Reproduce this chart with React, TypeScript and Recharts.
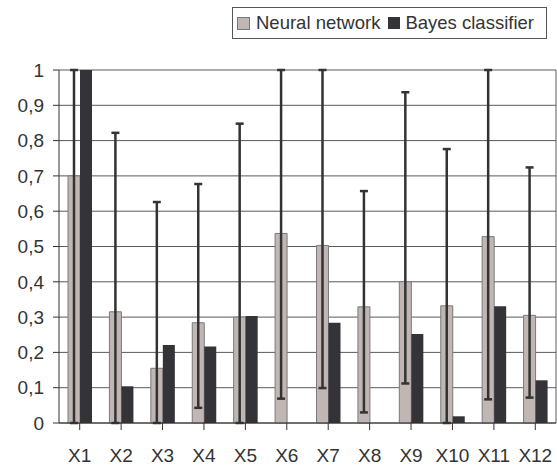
import React from 'react';
import {
  BarChart,
  Bar,
  XAxis,
  YAxis,
  CartesianGrid,
  ErrorBar,
  Legend,
} from 'recharts';

const categories = ['X1', 'X2', 'X3', 'X4', 'X5', 'X6', 'X7', 'X8', 'X9', 'X10', 'X11', 'X12'];
const neuralNetwork = [0.7, 0.315, 0.155, 0.284, 0.3, 0.537, 0.503, 0.329, 0.4, 0.332, 0.528, 0.305];
const bayesClassifier = [1.0, 0.104, 0.221, 0.217, 0.303, 0, 0.284, 0, 0.252, 0.019, 0.331, 0.121];
const errorLow = [0, 0, 0, 0.043, 0, 0.069, 0.099, 0.03, 0.112, 0, 0.067, 0.072];
const errorHigh = [1.0, 0.822, 0.626, 0.677, 0.848, 1.0, 1.0, 0.657, 0.937, 0.776, 1.0, 0.724];
const yTicks = [0, 0.1, 0.2, 0.3, 0.4, 0.5, 0.6, 0.7, 0.8, 0.9, 1];

const NN_FILL = '#c0b7b4';
const BAYES_FILL = '#333338';
const TEXT = '#333333';
const FONT = '"Liberation Sans", Arial, sans-serif';

const data = categories.map((name, i) => ({
  name,
  nn: neuralNetwork[i],
  bayes: bayesClassifier[i],
  nnErr: [neuralNetwork[i] - errorLow[i], errorHigh[i] - neuralNetwork[i]],
}));

const fmt = (v: number) => (v === 0 || v === 1 ? String(v) : v.toFixed(1).replace('.', ','));

const LegendBox = () => (
  <div
    style={{
      border: '1px solid #555',
      background: '#fff',
      height: 30,
      width: 313,
      display: 'flex',
      alignItems: 'center',
      fontFamily: FONT,
      fontSize: 18.5,
      color: TEXT,
      boxSizing: 'content-box',
    }}
  >
    <span style={{ width: 11, height: 11, background: NN_FILL, border: '1px solid #777', marginLeft: 4, marginRight: 6 }} />
    <span>Neural network</span>
    <span style={{ width: 12, height: 12, background: BAYES_FILL, marginLeft: 8, marginRight: 5 }} />
    <span>Bayes classifier</span>
  </div>
);

export default function App() {
  return (
    <div style={{ position: 'absolute', left: 0, top: 0, background: '#fff' }}>
      <BarChart
        width={557}
        height={466}
        data={data}
        margin={{ top: 70, right: 1, left: 0, bottom: 0 }}
        barGap={0}
        barSize={12}
      >
        <CartesianGrid
          stroke="#5a5a5a"
          strokeWidth={1}
          horizontal
          vertical
          verticalCoordinatesGenerator={({ offset }: any) => [offset.left + offset.width]}
        />
        <XAxis
          dataKey="name"
          height={43}
          tickSize={7}
          tickMargin={19}
          interval={0}
          axisLine={{ stroke: '#333' }}
          tickLine={{ stroke: '#333' }}
          tick={{ fill: TEXT, fontSize: 19, fontFamily: FONT }}
        />
        <YAxis
          domain={[0, 1]}
          ticks={yTicks}
          width={59}
          tickSize={6}
          tickMargin={9}
          interval={0}
          axisLine={{ stroke: '#333' }}
          tickLine={{ stroke: '#333' }}
          tick={{ fill: TEXT, fontSize: 19, fontFamily: FONT }}
          tickFormatter={fmt}
        />
        <Legend
          verticalAlign="middle"
          layout="horizontal"
          content={<LegendBox />}
          wrapperStyle={{ top: 7, left: 232, width: 315 }}
        />
        <Bar dataKey="nn" name="Neural network" fill={NN_FILL} stroke="#7a7a7a" strokeWidth={1} isAnimationActive={false}>
          <ErrorBar dataKey="nnErr" direction="y" width={4} stroke="#333" strokeWidth={2.5} />
        </Bar>
        <Bar dataKey="bayes" name="Bayes classifier" fill={BAYES_FILL} isAnimationActive={false} />
      </BarChart>
    </div>
  );
}
